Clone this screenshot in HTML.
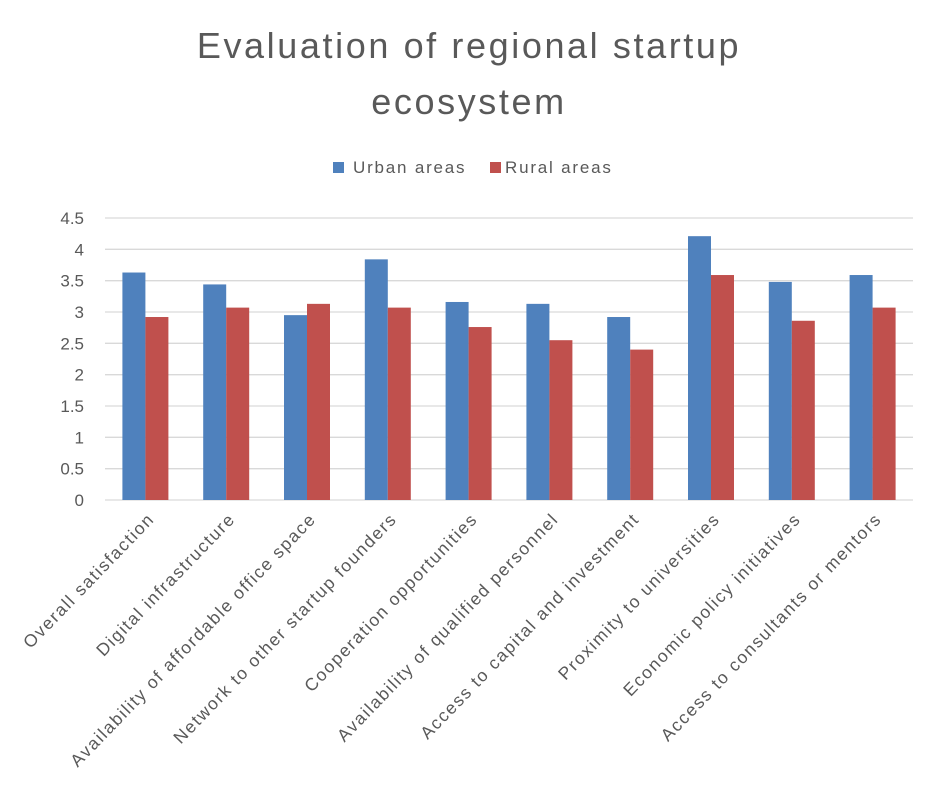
<!DOCTYPE html>
<html><head><meta charset="utf-8"><style>
body{margin:0;background:#fff;font-family:"Liberation Sans",sans-serif;}
svg text{font-family:"Liberation Sans",sans-serif;fill:#595959;}
</style></head><body>
<svg id="chart" width="926" height="785">
<text x="469" y="58" text-anchor="middle" font-size="36" letter-spacing="2.6">Evaluation of regional startup</text>
<text x="469" y="114" text-anchor="middle" font-size="36" letter-spacing="2.6">ecosystem</text>
<g>
<rect x="333" y="162" width="11" height="11" fill="#4f81bd"/>
<text x="353" y="173" font-size="17" letter-spacing="1.8">Urban areas</text>
<rect x="490" y="162" width="11" height="11" fill="#c0504d"/>
<text x="505" y="173" font-size="17" letter-spacing="1.8">Rural areas</text>
</g>
<g id="grid"></g><g id="bars"></g><g id="labels"></g>
</svg>
<script>
const categories=["Overall satisfaction","Digital infrastructure","Availability of affordable office space","Network to other startup founders","Cooperation opportunities","Availability of qualified personnel","Access to capital and investment","Proximity to universities","Economic policy initiatives","Access to consultants or mentors"];
const urban=[3.63,3.44,2.95,3.84,3.16,3.13,2.92,4.21,3.48,3.59];
const rural=[2.92,3.07,3.13,3.07,2.76,2.55,2.40,3.59,2.86,3.07];
const ticks=[0,0.5,1,1.5,2,2.5,3,3.5,4,4.5];
const ns="http://www.w3.org/2000/svg";
const L=105,R=913,Y0=500,Y1=218,YMAX=4.5;
const y=v=>Y0-(v/YMAX)*(Y0-Y1);
const bw=(R-L)/categories.length;
const grid=document.getElementById('grid'),bars=document.getElementById('bars'),labs=document.getElementById('labels');
function mk(tag,attrs,parent){const e=document.createElementNS(ns,tag);for(const k in attrs)e.setAttribute(k,attrs[k]);parent.appendChild(e);return e;}
ticks.forEach(t=>{
 const ln=mk('line',{x1:L,x2:R,y1:y(t),y2:y(t),stroke:'#d9d9d9','stroke-width':1.3},grid);
 
 
 const tx=mk('text',{x:84,y:y(t)+6,'text-anchor':'end','font-size':17},grid);
 tx.textContent=String(t);
 
 
});
categories.forEach((c,i)=>{
 const cx=L+bw*(i+0.5),w=23;
 const b1=mk('rect',{x:cx-w,y:y(urban[i]),width:w,height:Y0-y(urban[i]),fill:'#4f81bd'},bars);
 
 
 const b2=mk('rect',{x:cx,y:y(rural[i]),width:w,height:Y0-y(rural[i]),fill:'#c0504d'},bars);
 
 
 const tx=mk('text',{'text-anchor':'end','font-size':17.5,'letter-spacing':1.6,transform:`translate(${cx+10},${Y0+20}) rotate(-46)`},labs);
 tx.textContent=c;
 
 
});
</script>
</body></html>
